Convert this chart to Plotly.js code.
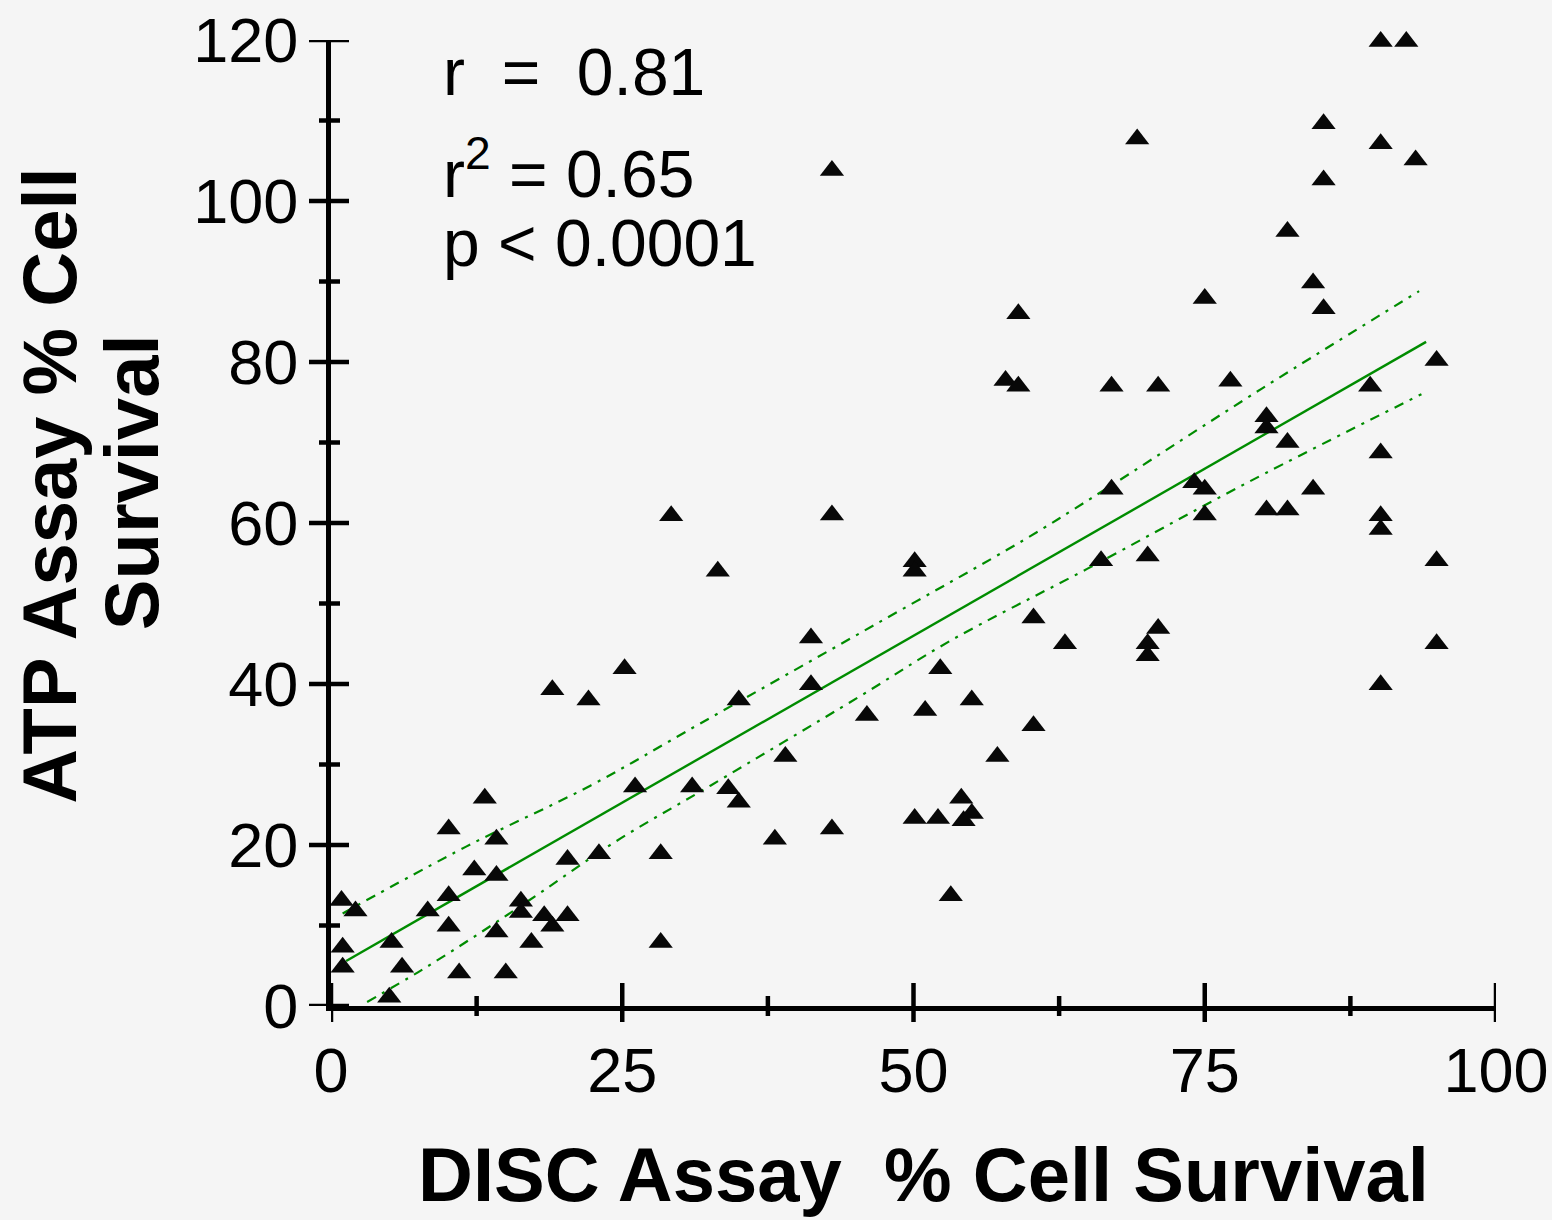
<!DOCTYPE html>
<html><head><meta charset="utf-8">
<script src="https://cdn.plot.ly/plotly-3.0.1.min.js"></script>
<style>html,body{margin:0;padding:0;background:#f5f5f5;}#chart{width:1552px;height:1220px;}</style>
</head><body><div id="chart"></div>
<script>
// DISC assay % cell survival (x) vs ATP assay % cell survival (y)
const discX = [0.9, 2.1, 1.0, 1.0, 5.2, 5.0, 6.1, 8.3, 10.1, 10.1, 10.1, 11.0, 12.3, 13.2, 14.2, 14.2, 14.2, 15.0, 16.3, 16.3,
  17.2, 18.3, 19.0, 20.3, 19.0, 20.3, 22.1, 23.0, 25.2, 26.1, 28.3, 28.3, 29.2, 31.0, 33.2, 34.1, 35.0, 35.0, 38.1, 39.0,
  41.2, 41.2, 43.0, 43.0, 43.0, 46.0, 50.1, 50.1, 50.1, 51.0, 52.3, 52.1, 53.2, 54.1, 54.3, 55.0, 55.0, 57.2, 57.9, 59.0,
  59.0, 60.3, 60.3, 63.0, 66.1, 67.0, 67.0, 69.2, 70.1, 70.1, 70.1, 71.0, 71.0, 74.1, 75.0, 75.0, 75.0, 77.2, 80.3, 80.3,
  80.3, 82.1, 82.1, 82.1, 84.3, 84.3, 85.2, 85.2, 85.2, 89.2, 90.1, 92.3, 90.1, 90.1, 90.1, 90.1, 90.1, 93.1, 94.9, 94.9, 94.9];
const atpY = [13.1, 11.8, 7.3, 4.8, 7.9, 1.1, 4.8, 11.8, 22.0, 13.7, 9.9, 4.1, 16.9, 25.8, 20.7, 16.2, 9.2, 4.1, 13.0, 11.6,
  7.9, 11.2, 9.9, 11.2, 39.3, 18.2, 38.0, 18.9, 41.9, 27.2, 18.9, 7.9, 60.9, 27.2, 54.0, 27.0, 25.3, 38.0, 20.7, 31.0,
  45.7, 39.9, 103.8, 61.0, 22.0, 36.1, 55.2, 54.0, 23.3, 36.7, 41.9, 23.3, 13.7, 25.8, 23.0, 23.9, 38.0, 31.0, 77.7, 77.0,
  86.0, 48.2, 34.8, 45.0, 55.3, 64.2, 77.0, 107.7, 55.9, 45.0, 43.5, 46.9, 77.0, 65.0, 64.2, 61.0, 87.9, 77.6, 73.2, 71.8,
  61.6, 61.6, 70.0, 96.2, 64.2, 89.8, 86.6, 102.6, 109.6, 77.0, 119.8, 119.8, 107.1, 68.7, 60.9, 59.2, 39.9, 105.1, 80.2, 55.3, 45.0];

// regression line end points and 95% confidence band
const fitX = [1.3, 94.0];
const fitY = [5.6, 82.5];
const upperX = [1.0, 11.6, 22.3, 31.7, 46.6, 59.6, 65.5, 79.9, 93.4];
const upperY = [11.5, 19.8, 27.4, 35.1, 47.3, 58.0, 63.3, 76.7, 88.8];
const lowerX = [3.1, 7.7, 12.6, 17.9, 24.4, 32.6, 45.2, 53.2, 64.9, 78.9, 93.6];
const lowerY = [0.5, 4.4, 8.9, 14.0, 20.4, 27.4, 38.3, 45.4, 54.3, 65.2, 76.0];

const xTickVals = [0, 25, 50, 75, 100];
const xMinorVals = [12.5, 37.5, 62.5, 87.5];
const yTickVals = [0, 20, 40, 60, 80, 100, 120];
const yMinorVals = [10, 30, 50, 70, 90, 110];
const statLines = ["r\u00a0\u00a0=\u00a0\u00a00.81", "r<sup>2</sup> = 0.65", "p &lt; 0.0001"];
const xTitle = "DISC Assay\u00a0\u00a0% Cell Survival";
const yTitleLines = ["ATP Assay % Cell", "Survival"];

const GREEN = "rgb(0,140,0)";
const FONT = "Liberation Sans, Arial, sans-serif";

const traces = [
  {x: upperX, y: upperY, type: "scatter", mode: "lines",
   line: {color: GREEN, width: 2.2, dash: "10px,7px,3px,7px", shape: "spline"}},
  {x: lowerX, y: lowerY, type: "scatter", mode: "lines",
   line: {color: GREEN, width: 2.2, dash: "10px,7px,3px,7px", shape: "spline"}},
  {x: fitX, y: fitY, type: "scatter", mode: "lines",
   line: {color: GREEN, width: 2.4}},
  {x: discX, y: atpY, type: "scatter", mode: "markers", cliponaxis: false,
   marker: {symbol: "triangle-up", size: 21, color: "#080808"}}
];

// crossing tick marks (placed at the tick values through the axes; paper on the other side so they are not clipped)
const tickLine = {color: "#000", width: 4.5};
const shapes = [];
xTickVals.forEach(v => shapes.push({type: "line", xref: "x", yref: "paper", ysizemode: "pixel", yanchor: 0,
  x0: v, x1: v, y0: -16, y1: 23, line: tickLine}));
xMinorVals.forEach(v => shapes.push({type: "line", xref: "x", yref: "paper", ysizemode: "pixel", yanchor: 0,
  x0: v, x1: v, y0: -10, y1: 10, line: tickLine}));
yTickVals.forEach(v => shapes.push({type: "line", xref: "paper", yref: "y", xsizemode: "pixel", xanchor: 0,
  y0: v, y1: v, x0: -22, x1: 18, line: tickLine}));
yMinorVals.forEach(v => shapes.push({type: "line", xref: "paper", yref: "y", xsizemode: "pixel", xanchor: 0,
  y0: v, y1: v, x0: -12, x1: 9, line: tickLine}));

const layout = {
  width: 1552, height: 1220,
  paper_bgcolor: "#f5f5f5", plot_bgcolor: "#f5f5f5",
  margin: {l: 331, r: 56, t: 40, b: 214},
  showlegend: false,
  xaxis: {
    range: [0, 100], showline: true, linewidth: 5, linecolor: "#000", showgrid: false, zeroline: false,
    ticks: "", tickmode: "array", tickvals: xTickVals, ticktext: xTickVals.map(String),
    tickfont: {family: FONT, size: 63, color: "#000"}, ticklabelstandoff: 5, fixedrange: true
  },
  yaxis: {
    range: [0, 120], showline: true, linewidth: 5, linecolor: "#000", showgrid: false, zeroline: false,
    ticks: "", tickmode: "array", tickvals: yTickVals, ticktext: yTickVals.map(String),
    tickfont: {family: FONT, size: 63, color: "#000"}, ticklabelstandoff: 15, fixedrange: true
  },
  shapes: shapes,
  annotations: [
    {text: statLines[0], xref: "paper", yref: "paper", x: 0.094, y: 0.967, xanchor: "left", yanchor: "middle",
     showarrow: false, font: {family: FONT, size: 66, color: "#000"}},
    {text: statLines[1], xref: "paper", yref: "paper", x: 0.094, y: 0.866, xanchor: "left", yanchor: "middle",
     showarrow: false, font: {family: FONT, size: 66, color: "#000"}},
    {text: statLines[2], xref: "paper", yref: "paper", x: 0.094, y: 0.790, xanchor: "left", yanchor: "middle",
     showarrow: false, font: {family: FONT, size: 66, color: "#000"}},
    {text: xTitle, xref: "paper", yref: "paper", x: 0.509, y: -0.174, xanchor: "center", yanchor: "middle",
     showarrow: false, font: {family: FONT, size: 76, color: "#000", weight: "bold"}},
    {text: yTitleLines[0], xref: "paper", yref: "paper", x: -0.2417, y: 0.539, xanchor: "center", yanchor: "middle",
     textangle: -90, showarrow: false, font: {family: FONT, size: 76, color: "#000", weight: "bold"}},
    {text: yTitleLines[1], xref: "paper", yref: "paper", x: -0.171, y: 0.542, xanchor: "center", yanchor: "middle",
     textangle: -90, showarrow: false, font: {family: FONT, size: 76, color: "#000", weight: "bold"}}
  ]
};

Plotly.newPlot("chart", traces, layout, {staticPlot: true, displayModeBar: false});
</script>
</body></html>
